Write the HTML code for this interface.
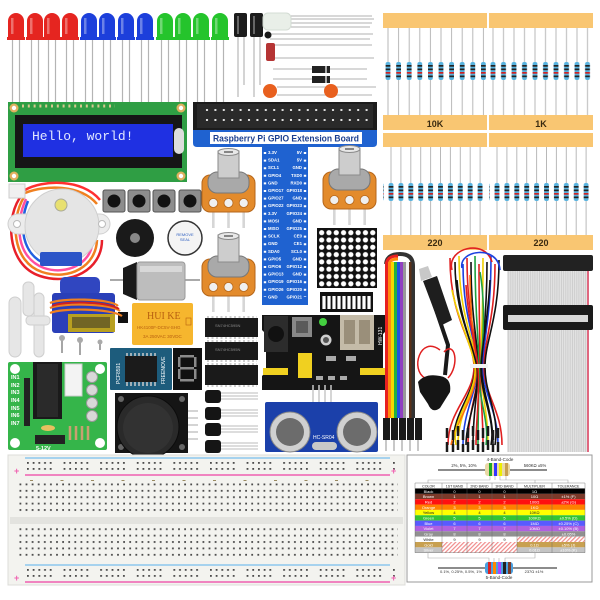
<!DOCTYPE html>
<html><head><meta charset="utf-8"><style>html,body{margin:0;padding:0;background:#fff}svg{display:block}</style></head>
<body>
<svg xmlns="http://www.w3.org/2000/svg" width="600" height="600" viewBox="0 0 600 600" font-family="'Liberation Sans',sans-serif">
<defs>
<g id="led"><path d="M4.5,27V93M11.5,27V89" stroke="#b4b4b4" stroke-width="1.2"/><path d="M0,26V8a8,8 0 0 1 16,0V26Z"/><rect x="-1" y="24" width="18" height="3"/><rect x="3" y="5" width="2.5" height="16" fill="#fff" opacity=".35"/></g>
<g id="rb"><rect x="-2.4" y="0" width="4.8" height="18" rx="2" fill="#58b2de"/><rect x="-2.4" y="3" width="4.8" height="1.7" fill="#222"/><rect x="-2.4" y="6.5" width="4.8" height="1.7" fill="#222"/><rect x="-2.4" y="10" width="4.8" height="1.7" fill="#c22"/><rect x="-2.4" y="13.5" width="4.8" height="1.7" fill="#222"/></g>
<pattern id="r1a" patternUnits="userSpaceOnUse" x="382.7" y="28" width="10.6" height="87"><line x1="5.3" y1="0" x2="5.3" y2="87" stroke="#b8b8b8"/><use href="#rb" x="5.3" y="34"/></pattern>
<pattern id="r1b" patternUnits="userSpaceOnUse" x="487.75" y="28" width="10.5" height="87"><line x1="5.25" y1="0" x2="5.25" y2="87" stroke="#b8b8b8"/><use href="#rb" x="5.25" y="34"/></pattern>
<pattern id="r2a" patternUnits="userSpaceOnUse" x="386.05" y="147" width="9.9" height="88"><line x1="4.95" y1="0" x2="4.95" y2="88" stroke="#b8b8b8"/><use href="#rb" x="4.95" y="36"/></pattern>
<pattern id="r2b" patternUnits="userSpaceOnUse" x="492.05" y="147" width="9.9" height="88"><line x1="4.95" y1="0" x2="4.95" y2="88" stroke="#b8b8b8"/><use href="#rb" x="4.95" y="36"/></pattern>
<g id="pot">
<rect x="10" y="62" width="2.6" height="18" fill="#d6d6d6"/><rect x="25.2" y="62" width="2.6" height="18" fill="#d6d6d6"/><rect x="40.4" y="62" width="2.6" height="18" fill="#d6d6d6"/>
<rect x="0" y="27" width="53" height="37" rx="8" fill="#e38b2c" stroke="#b5661a"/>
<circle cx="11.3" cy="55" r="4.5" fill="#f0f0f0" stroke="#b5661a" stroke-width=".8"/><circle cx="26.5" cy="55" r="4.5" fill="#f0f0f0" stroke="#b5661a" stroke-width=".8"/><circle cx="41.7" cy="55" r="4.5" fill="#f0f0f0" stroke="#b5661a" stroke-width=".8"/>
<rect x="6" y="24" width="41" height="21" rx="9" fill="#a9a9a9" stroke="#777"/>
<rect x="16" y="3" width="21" height="27" fill="#cdcdcd" stroke="#8a8a8a"/>
<ellipse cx="26.5" cy="4" rx="10.5" ry="3.5" fill="#e8e8e8" stroke="#8a8a8a"/><path d="M22,4H31" stroke="#666" stroke-width="1.5"/>
</g>
<pattern id="hdr" patternUnits="userSpaceOnUse" x="203" y="106" width="8.4" height="10"><rect x="3" y="3" width="2" height="2" fill="#ddd"/></pattern>
<pattern id="mtx" patternUnits="userSpaceOnUse" x="318" y="229" width="7.3" height="7.3"><circle cx="3.65" cy="3.65" r="2.6" fill="#fff"/></pattern>
<pattern id="bbh" patternUnits="userSpaceOnUse" x="18" y="482" width="6.1" height="6.4"><rect x="1.5" y="1.5" width="1.8" height="1.8" fill="#4a4a4a"/></pattern>
<pattern id="rail" patternUnits="userSpaceOnUse" x="27" y="461" width="36.6" height="6"><g fill="#4a4a4a"><rect x="0" y="1" width="1.8" height="1.8"/><rect x="5.7" y="1" width="1.8" height="1.8"/><rect x="11.4" y="1" width="1.8" height="1.8"/><rect x="17.1" y="1" width="1.8" height="1.8"/><rect x="22.8" y="1" width="1.8" height="1.8"/></g></pattern>
<pattern id="rail2" patternUnits="userSpaceOnUse" x="27" y="568" width="36.6" height="6"><g fill="#4a4a4a"><rect x="0" y="1" width="1.8" height="1.8"/><rect x="5.7" y="1" width="1.8" height="1.8"/><rect x="11.4" y="1" width="1.8" height="1.8"/><rect x="17.1" y="1" width="1.8" height="1.8"/><rect x="22.8" y="1" width="1.8" height="1.8"/></g></pattern>
<pattern id="lbl" patternUnits="userSpaceOnUse" x="30" y="0" width="30.5" height="10"><rect x="0" y="0" width="3" height="2" fill="#9a8a60"/></pattern>
<pattern id="gray" patternUnits="userSpaceOnUse" width="2.2" height="10"><rect width="2.2" height="10" fill="#e2e2e2"/><rect width="0.7" height="10" fill="#c6c6c6"/></pattern>
<pattern id="hatch" patternUnits="userSpaceOnUse" width="3" height="3" patternTransform="rotate(45)"><rect width="3" height="3" fill="#fff"/><rect width="1.2" height="3" fill="#f08a8a"/></pattern>
</defs>
<rect width="600" height="600" fill="#fff"/>

<!-- LEDs -->
<use href="#led" x="8" y="13" fill="#e52520"/><use href="#led" x="27" y="13" fill="#e52520"/><use href="#led" x="44" y="13" fill="#e52520"/><use href="#led" x="62" y="13" fill="#e52520"/>
<use href="#led" x="81" y="13" fill="#1c3fdb"/><use href="#led" x="99" y="13" fill="#1c3fdb"/><use href="#led" x="118" y="13" fill="#1c3fdb"/><use href="#led" x="137" y="13" fill="#1c3fdb"/>
<use href="#led" x="157" y="13" fill="#25c42c"/><use href="#led" x="175" y="13" fill="#25c42c"/><use href="#led" x="193" y="13" fill="#25c42c"/><use href="#led" x="212" y="13" fill="#25c42c"/>

<!-- capacitors & small parts -->
<path d="M238,37V97M244,37V85M254,37V97M260,37V85" stroke="#aaa" stroke-width="1"/>
<rect x="234" y="13" width="13" height="24" rx="2" fill="#1c1c1c"/><rect x="250" y="13" width="13" height="24" rx="2" fill="#1c1c1c"/>
<rect x="237" y="16" width="2" height="18" fill="#666"/><rect x="253" y="16" width="2" height="18" fill="#666"/>
<path d="M291,16H372M291,19H374M291,23H372M291,27H370M270,34H373M270,39H370M274,45H372M274,58H374M273,69H367M273,79H367M277,87H376M277,95H372" stroke="#b0b0b0" stroke-width="1"/>
<rect x="263" y="13" width="28" height="17" rx="5" fill="#e9efe8" stroke="#d4dcd4"/>
<circle cx="268" cy="35" r="3.5" fill="#1a1a1a"/>
<rect x="266" y="43" width="9" height="18" rx="2" fill="#b53434"/>
<rect x="312" y="66" width="18" height="7" fill="#222"/><rect x="325" y="66" width="2" height="7" fill="#aaa"/>
<rect x="312" y="76" width="18" height="7" fill="#222"/><rect x="325" y="76" width="2" height="7" fill="#aaa"/>
<circle cx="270" cy="91" r="7" fill="#e8601f"/><circle cx="331" cy="91" r="7" fill="#e8601f"/>

<!-- resistor strips -->
<rect x="383" y="13" width="104" height="15" fill="#f9c672"/><rect x="489" y="13" width="104" height="15" fill="#f9c672"/>
<rect x="383" y="28" width="104" height="87" fill="url(#r1a)"/><rect x="489" y="28" width="104" height="87" fill="url(#r1b)"/>
<rect x="383" y="115" width="104" height="15" fill="#f9c672"/><rect x="489" y="115" width="104" height="15" fill="#f9c672"/>
<text x="435" y="127" font-size="9" font-weight="bold" text-anchor="middle" fill="#3a2a10">10K</text>
<text x="541" y="127" font-size="9" font-weight="bold" text-anchor="middle" fill="#3a2a10">1K</text>
<rect x="383" y="133" width="104" height="14" fill="#f9c672"/><rect x="489" y="133" width="104" height="14" fill="#f9c672"/>
<rect x="383" y="147" width="104" height="88" fill="url(#r2a)"/><rect x="489" y="147" width="104" height="88" fill="url(#r2b)"/>
<rect x="383" y="235" width="104" height="15" fill="#f9c672"/><rect x="489" y="235" width="104" height="15" fill="#f9c672"/>
<text x="435" y="246" font-size="9" font-weight="bold" text-anchor="middle" fill="#3a2a10">220</text>
<text x="541" y="246" font-size="9" font-weight="bold" text-anchor="middle" fill="#3a2a10">220</text>

<!-- LCD -->
<rect x="8" y="102" width="179" height="80" fill="#2f9e44"/>
<g fill="#e0b060"><circle cx="14" cy="108" r="4.5"/><circle cx="181" cy="108" r="4.5"/><circle cx="14" cy="176" r="4.5"/><circle cx="181" cy="176" r="4.5"/></g>
<g fill="#fff"><circle cx="14" cy="108" r="2.2"/><circle cx="181" cy="108" r="2.2"/><circle cx="14" cy="176" r="2.2"/><circle cx="181" cy="176" r="2.2"/></g>
<path d="M22,106H115" stroke="#d8c890" stroke-width="3" stroke-dasharray="2 3.8"/>
<rect x="15" y="115" width="167" height="53" fill="#161616"/>
<rect x="23" y="124" width="150" height="33" fill="#1f30e2"/>
<text x="32" y="140" font-family="'Liberation Mono',monospace" font-size="13" fill="#e2e8ff">Hello, world!</text>
<rect x="174" y="128" width="10" height="26" rx="5" fill="#ddd"/>

<!-- GPIO board -->
<rect x="193" y="102" width="184" height="28" fill="#1c1c1c"/>
<rect x="197" y="104" width="176" height="24" fill="#2a2a2a"/>
<rect x="200" y="106" width="170" height="20" fill="url(#hdr)"/>
<path d="M193,130H377V143Q377,147 373,147H308V305H262V147H197Q193,147 193,143Z" fill="#1f62d0"/>
<rect x="210" y="132" width="152" height="12" fill="#fff"/>
<text x="286" y="141.5" font-size="8.8" font-weight="bold" text-anchor="middle" fill="#1b3f8f" textLength="146" lengthAdjust="spacingAndGlyphs">Raspberry Pi GPIO Extension Board</text>
<path d="M265,152V297M305,152V297" stroke="#fff" stroke-width="2.4" stroke-dasharray="2 5.6"/>
<g font-size="4.3" fill="#fff" font-weight="bold">
<text x="268" y="154">3.3V</text><text x="268" y="161.6">SDA1</text><text x="268" y="169.2">SCL1</text><text x="268" y="176.8">GPIO4</text><text x="268" y="184.4">GND</text><text x="268" y="192">GPIO17</text><text x="268" y="199.6">GPIO27</text><text x="268" y="207.2">GPIO22</text><text x="268" y="214.8">3.3V</text><text x="268" y="222.4">MOSI</text><text x="268" y="230">MISO</text><text x="268" y="237.6">SCLK</text><text x="268" y="245.2">GND</text><text x="268" y="252.8">SDA0</text><text x="268" y="260.4">GPIO5</text><text x="268" y="268">GPIO6</text><text x="268" y="275.6">GPIO13</text><text x="268" y="283.2">GPIO19</text><text x="268" y="290.8">GPIO26</text><text x="268" y="298.4">GND</text>
</g>
<g font-size="4.3" fill="#fff" font-weight="bold" text-anchor="end">
<text x="302" y="154">5V</text><text x="302" y="161.6">5V</text><text x="302" y="169.2">GND</text><text x="302" y="176.8">TXD0</text><text x="302" y="184.4">RXD0</text><text x="302" y="192">GPIO18</text><text x="302" y="199.6">GND</text><text x="302" y="207.2">GPIO23</text><text x="302" y="214.8">GPIO24</text><text x="302" y="222.4">GND</text><text x="302" y="230">GPIO25</text><text x="302" y="237.6">CE0</text><text x="302" y="245.2">CE1</text><text x="302" y="252.8">SCL0</text><text x="302" y="260.4">GND</text><text x="302" y="268">GPIO12</text><text x="302" y="275.6">GND</text><text x="302" y="283.2">GPIO16</text><text x="302" y="290.8">GPIO20</text><text x="302" y="298.4">GPIO21</text>
</g>

<!-- pots -->
<use href="#pot" x="202" y="148"/><use href="#pot" x="323" y="145"/><use href="#pot" x="202" y="232"/>

<!-- LED matrix & bar -->
<rect x="317" y="228" width="60" height="60" fill="#111"/><rect x="318" y="229" width="58" height="58" fill="url(#mtx)"/>
<rect x="320" y="292" width="53" height="20" fill="#111"/>
<path d="M324,296V309M329,296V309M334,296V309M339,296V309M344,296V309M349,296V309M354,296V309M359,296V309M364,296V309M369,296V309" stroke="#fff" stroke-width="3.2"/>

<!-- buttons -->
<g fill="#8d8d8d" stroke="#555"><rect x="103" y="190" width="22" height="22" rx="2"/><rect x="128" y="190" width="22" height="22" rx="2"/><rect x="153" y="190" width="22" height="22" rx="2"/><rect x="179" y="190" width="22" height="22" rx="2"/></g>
<g fill="#111"><circle cx="114" cy="201" r="6.5"/><circle cx="139" cy="201" r="6.5"/><circle cx="164" cy="201" r="6.5"/><circle cx="190" cy="201" r="6.5"/></g>

<!-- stepper -->
<g fill="none" stroke-width="2.5">
<path d="M22,195C5,215 6,265 40,276C70,286 102,270 102,240" stroke="#e8202a"/>
<path d="M24,197C10,220 12,262 42,272C70,281 96,266 97,240" stroke="#f08020"/>
<path d="M26,199C14,225 17,258 44,268C68,276 90,262 92,245" stroke="#ff4fa0"/>
<path d="M28,201C18,225 22,255 46,264" stroke="#2060e0"/>
<path d="M25,190C42,180 82,178 100,200" stroke="#ff3030"/>
<path d="M25,193C45,185 80,184 97,204" stroke="#f08020"/>
</g>
<rect x="9" y="184" width="16" height="14" fill="#f0f0f0" stroke="#ccc"/>
<rect x="8" y="214" width="102" height="20" rx="10" fill="#ececec" stroke="#cfcfcf"/>
<circle cx="62" cy="226" r="37" fill="#e5e5e5" stroke="#cfcfcf"/>
<circle cx="17" cy="224" r="3.5" fill="#fff" stroke="#bbb"/><circle cx="102" cy="224" r="3.5" fill="#fff" stroke="#bbb"/>
<rect x="40" y="252" width="42" height="14" rx="2" fill="#2c55c8"/>
<circle cx="61" cy="205" r="6" fill="#e8e070" stroke="#aa9"/>

<!-- buzzers -->
<circle cx="135" cy="238" r="19" fill="#1a1a1a"/><circle cx="135" cy="238" r="5" fill="#888"/>
<circle cx="185" cy="238" r="17" fill="#f4f4f4" stroke="#333" stroke-width="1.5"/>
<text x="185" y="236" font-size="4" text-anchor="middle" fill="#3060c0">REMOVE</text><text x="185" y="241" font-size="4" text-anchor="middle" fill="#3060c0">SEAL</text>

<!-- DC motor -->
<path d="M110,280H124M185,280H200" stroke="#aaa" stroke-width="2"/>
<path d="M123,268L137,262V300L123,294Z" fill="#1a1a1a"/>
<rect x="137" y="262" width="48" height="38" rx="3" fill="#bdbdbd" stroke="#999"/>
<rect x="140" y="266" width="42" height="6" fill="#d8d8d8"/>

<!-- servo horns & screws -->
<g fill="#e6e6e6" stroke="#cfcfcf"><rect x="9" y="297" width="12" height="60" rx="6"/><rect x="23" y="282" width="11" height="34" rx="5"/><rect x="34" y="293" width="10" height="64" rx="5"/><rect x="26" y="316" width="24" height="9" rx="4"/></g>
<g stroke="#888" stroke-width="1.5"><path d="M62,338V353M80,340V355M100,342V350"/></g>
<g fill="#aaa"><circle cx="62" cy="338" r="3"/><circle cx="80" cy="340" r="3"/><circle cx="100" cy="342" r="2.5"/></g>

<!-- servo -->
<rect x="60" y="277" width="40" height="18" rx="5" fill="#3046c0"/>
<rect x="52" y="293" width="63" height="40" rx="3" fill="#2a3fb8"/>
<rect x="118" y="312" width="10" height="11" fill="#111"/>
<path d="M50,303C60,298 110,298 118,306M50,308C60,303 110,303 120,311M50,313C60,308 110,308 122,316" fill="none" stroke-width="2.2" stroke="#f08020"/>
<path d="M52,306C62,301 108,301 119,309" fill="none" stroke="#d02020" stroke-width="2"/>
<rect x="68" y="314" width="47" height="18" fill="#b8a020"/>
<rect x="72" y="317" width="38" height="11" fill="#2a2a2a" opacity=".5"/>

<!-- relay -->
<rect x="132" y="303" width="61" height="42" rx="2" fill="#f6b62e"/>
<text x="147" y="319" font-family="'Liberation Serif',serif" font-size="10" fill="#b86010">HUI KE</text>
<text x="137" y="329" font-size="4.5" fill="#b86010">HK4100F-DC5V-SHG</text>
<text x="143" y="338" font-size="4.5" fill="#b86010">3A 250VAC 30VDC</text>
<rect x="186" y="318" width="5" height="7" fill="none" stroke="#b86010" stroke-width=".6"/>

<!-- PCF8591 -->
<rect x="110" y="348" width="62" height="42" rx="1" fill="#1d5c7c"/>
<rect x="125" y="356" width="32" height="26" fill="#1b1b1b"/>
<path d="M127,353V356M131,353V356M135,353V356M139,353V356M143,353V356M147,353V356M151,353V356M155,353V356M127,382V386M131,382V386M135,382V386M139,382V386M143,382V386M147,382V386M151,382V386M155,382V386" stroke="#ccc" stroke-width="1.5"/>
<text transform="translate(120,384) rotate(-90)" font-size="5" fill="#fff">PCF8591</text>
<text transform="translate(165,384) rotate(-90)" font-size="5" fill="#fff">FREENOVE</text>

<!-- 7 seg -->
<rect x="173" y="348" width="29" height="42" fill="#111"/>
<g fill="#8a8a8a"><rect x="180" y="355" width="14" height="2.5"/><rect x="180" y="367" width="14" height="2.5"/><rect x="180" y="379" width="14" height="2.5"/><rect x="178" y="357" width="2.5" height="10"/><rect x="194" y="357" width="2.5" height="10"/><rect x="178" y="369" width="2.5" height="10"/><rect x="194" y="369" width="2.5" height="10"/></g>

<!-- ICs -->
<g fill="#1a1a1a"><rect x="205" y="318" width="53" height="19"/><rect x="205" y="342" width="53" height="18"/><rect x="205" y="365" width="53" height="20"/></g>
<path d="M207,317H257M207,338H257M207,341H257M207,361H257M207,364H257M207,386H257" stroke="#bbb" stroke-width="1.5" stroke-dasharray="2 2.5"/>
<g font-size="4" fill="#888"><text x="215" y="327">SN74HC595N</text><text x="215" y="351">SN74HC595N</text></g>

<!-- transistors -->
<path d="M220,393H258M220,396H258M220,399H258M220,410H258M220,413H258M220,416H258M220,426H258M220,429H258M220,432H258M220,443H258M220,446H258M220,449H258" stroke="#bbb" stroke-width="1"/>
<g fill="#151515"><rect x="205" y="390" width="16" height="13" rx="3"/><rect x="205" y="407" width="16" height="13" rx="3"/><rect x="205" y="423" width="16" height="13" rx="3"/><rect x="205" y="440" width="16" height="13" rx="3"/></g>

<!-- joystick -->
<rect x="115" y="393" width="73" height="60" fill="#151515"/>
<g fill="#666"><circle cx="121" cy="399" r="3"/><circle cx="182" cy="399" r="3"/><circle cx="121" cy="447" r="3"/><circle cx="182" cy="447" r="3"/></g>
<circle cx="148" cy="427" r="31" fill="#2a2a2a" stroke="#0c0c0c"/>
<circle cx="148" cy="428" r="25" fill="#323232"/>
<path d="M188,411H198M188,418H198M188,425H198M188,432H198M188,439H198" stroke="#bbb" stroke-width="1.2"/>

<!-- ULN2003 board -->
<rect x="8" y="362" width="99" height="88" rx="2" fill="#35b54a"/>
<g fill="#fff"><circle cx="15" cy="369" r="5"/><circle cx="100" cy="369" r="5"/><circle cx="15" cy="443" r="5"/><circle cx="100" cy="443" r="5"/></g>
<rect x="24" y="378" width="6" height="48" fill="#222"/>
<rect x="33" y="362" width="29" height="57" fill="#1a1a1a"/>
<rect x="37" y="364" width="21" height="53" fill="#2a2a2a"/>
<rect x="65" y="364" width="17" height="32" fill="#f3f3f3" stroke="#ccc"/>
<g fill="#d8d8d8" stroke="#999"><circle cx="92" cy="377" r="5.5"/><circle cx="92" cy="390" r="5.5"/><circle cx="92" cy="403" r="5.5"/><circle cx="92" cy="416" r="5.5"/></g>
<ellipse cx="48" cy="428" rx="7" ry="3" fill="#e8c060"/>
<path d="M70,426V440M76,426V440M82,426V440M88,426V440" stroke="#c8a070" stroke-width="2.5"/>
<rect x="35" y="435" width="30" height="9" fill="#222"/>
<g font-size="5.5" font-weight="bold" fill="#fff"><text x="11" y="379">IN1</text><text x="11" y="387">IN2</text><text x="11" y="394">IN3</text><text x="11" y="402">IN4</text><text x="11" y="410">IN5</text><text x="11" y="417">IN6</text><text x="11" y="425">IN7</text><text x="36" y="450">5-12V</text></g>

<!-- power module -->
<path d="M262,315H387V330L383,334V372L387,376V390H262V376L266,372V334L262,330Z" fill="#151515"/>
<rect x="264" y="316" width="24" height="36" fill="#2c2c2c"/>
<circle cx="276" cy="334" r="8" fill="#111"/>
<rect x="292" y="317" width="20" height="20" fill="#888"/><rect x="296" y="321" width="12" height="12" fill="#5a5a5a"/>
<circle cx="323" cy="322" r="4" fill="#44d040"/>
<circle cx="326" cy="340" r="5.5" fill="#cfcfcf"/><circle cx="326" cy="340" r="3" fill="#555"/>
<rect x="340" y="315" width="34" height="35" fill="#c4bba8"/>
<rect x="344" y="320" width="11" height="24" fill="#9a8f7a"/><rect x="359" y="320" width="11" height="24" fill="#9a8f7a"/>
<rect x="298" y="353" width="14" height="25" fill="#f0d020"/>
<rect x="263" y="368" width="25" height="7" fill="#f0d020"/><rect x="360" y="368" width="25" height="7" fill="#f0d020"/>
<g fill="#aaa"><rect x="326" y="356" width="10" height="5"/><rect x="346" y="356" width="10" height="5"/><rect x="316" y="376" width="7" height="4"/><rect x="328" y="376" width="7" height="4"/><rect x="340" y="376" width="7" height="4"/></g>
<text transform="translate(382,345) rotate(-90)" font-size="5" fill="#fff">HW-131</text>

<!-- ultrasonic -->
<path d="M313,385V402M319,385V402M325,385V402M331,385V402" stroke="#c8c8c8" stroke-width="1.5"/>
<rect x="265" y="402" width="113" height="50" rx="2" fill="#1b40aa"/>
<circle cx="290" cy="432" r="20" fill="#d0d0d0" stroke="#888"/><circle cx="290" cy="432" r="14" fill="#6c6c6c"/>
<circle cx="357" cy="432" r="20" fill="#d0d0d0" stroke="#888"/><circle cx="357" cy="432" r="14" fill="#6c6c6c"/>
<rect x="312" y="442" width="25" height="8" rx="4" fill="#c8c8c8"/>
<text x="313" y="439" font-size="5" fill="#fff">HC-SR04</text>

<!-- rainbow ribbon -->
<path d="M413,418V266Q413,254 400,254Q387,254 386,264" fill="none" stroke="#333" stroke-width="4"/>
<path d="M386.5,264Q387,256 398,256" fill="none" stroke="#e82020" stroke-width="3"/>
<path d="M389.5,264Q390,259 398,259" fill="none" stroke="#ff8a10" stroke-width="3"/>
<g><rect x="385" y="262" width="3" height="156" fill="#e82020"/><rect x="388" y="262" width="3" height="156" fill="#ff8a10"/><rect x="391" y="262" width="3" height="156" fill="#f4d800"/><rect x="394" y="262" width="3" height="156" fill="#20b040"/><rect x="397" y="262" width="3" height="156" fill="#2050e0"/><rect x="400" y="262" width="3" height="156" fill="#9040c0"/><rect x="403" y="262" width="3" height="156" fill="#999"/><rect x="406" y="262" width="3" height="156" fill="#f4f4f4"/><rect x="409" y="262" width="2.5" height="156" fill="#5a3018"/></g>
<g fill="#1a1a1a"><rect x="383" y="418" width="7" height="22"/><rect x="391" y="418" width="7" height="22"/><rect x="399" y="418" width="7" height="22"/><rect x="407" y="418" width="7" height="22"/><rect x="415" y="418" width="7" height="22"/></g>
<path d="M386,440V451M394,440V451M402,440V451M410,440V451M418,440V451" stroke="#aaa" stroke-width="1.3"/>

<!-- DC jack & battery clip -->
<path d="M430,292L448,345L445,375" fill="none" stroke="#1a1a1a" stroke-width="4"/>
<path d="M423,281L437,276L452,320L440,326Z" fill="#1e1e1e"/>
<path d="M421,281L432,277L428,266L419,269Z" fill="#c8c8c8"/>
<path d="M440,350C420,335 410,370 425,378M444,352C455,340 460,365 448,378" fill="none" stroke="#e02020" stroke-width="1.5"/>
<path d="M418,382Q425,373 440,376Q452,378 450,392L440,408Q432,414 428,404L420,392Z" fill="#151515"/>

<!-- jumper bundle -->
<g fill="none" stroke-width="1.6">
<path d="M450,258C450,320 474,340 474,367C474,395 448,410 448,445" stroke="#e02020"/>
<path d="M455,262C455,320 475,340 475,367C475,395 453,410 453,445" stroke="#111"/>
<path d="M459,256C459,320 476,340 476,367C476,395 458,410 458,445" stroke="#f0d000"/>
<path d="M463,264C463,320 477,340 477,367C477,395 463,410 463,445" stroke="#1a40e0"/>
<path d="M467,258C467,320 478,340 478,367C478,395 468,410 468,445" stroke="#e02020"/>
<path d="M471,262C471,320 478,340 478,367C478,395 473,410 473,445" stroke="#111"/>
<path d="M475,256C475,320 479,340 479,367C479,395 478,410 478,445" stroke="#20a040"/>
<path d="M479,264C479,320 480,340 480,367C480,395 483,410 483,445" stroke="#e02020"/>
<path d="M483,258C483,320 481,340 481,367C481,395 488,410 488,445" stroke="#f0d000"/>
<path d="M487,262C487,320 482,340 482,367C482,395 493,410 493,445" stroke="#111"/>
<path d="M491,256C491,320 483,340 483,367C483,395 498,410 498,445" stroke="#1a40e0"/>
<path d="M495,264C495,320 484,340 484,367C484,395 502,410 502,445" stroke="#e02020"/>
<path d="M499,260C499,320 485,340 485,367C485,395 500,415 495,445" stroke="#111"/>
<path d="M452,270C446,248 485,238 492,262" stroke="#e02020"/>
<path d="M462,268C458,250 498,244 500,270" stroke="#1a40e0"/>
<path d="M470,275C470,300 473,340 476,367C478,395 456,420 451,445" stroke="#ff7010"/>
<path d="M480,272C485,300 484,340 480,367C476,395 490,420 486,445" stroke="#20a040"/>
<path d="M457,280C460,320 473,345 477,367C480,395 466,420 466,445" stroke="#111"/>
<path d="M490,280C488,320 482,345 481,367C480,395 496,420 491,445" stroke="#111"/>
<path d="M466,285C468,320 476,345 478,367C480,395 476,420 476,445" stroke="#e02020"/>
<path d="M452,290C458,320 472,345 475,367C477,395 450,420 456,445" stroke="#f0d000"/>
</g>
<rect x="470" y="364" width="18" height="4" fill="#f4f4f4"/>
<path d="M447,428V452M453,430V452M458,426V452M463,430V452M468,428V452M473,426V452M478,430V452M483,428V452M488,426V452M493,430V452M498,428V452" stroke="#1a1a1a" stroke-width="2.5" stroke-dasharray="10 4"/>

<!-- gray ribbon -->
<rect x="507" y="268" width="82" height="184" fill="url(#gray)"/>
<line x1="588" y1="255" x2="588" y2="452" stroke="#e04060" stroke-width="1.5"/>
<rect x="503" y="255" width="90" height="16" rx="2" fill="#222"/>
<rect x="503" y="305" width="90" height="25" rx="2" fill="#1a1a1a"/>
<rect x="508" y="315" width="80" height="7" fill="#d8d8d8"/>

<!-- breadboard -->
<rect x="8" y="455" width="397" height="130" fill="#f3f3ef" stroke="#dcdcd8"/>
<line x1="25" y1="458" x2="390" y2="458" stroke="#8cc8ee" stroke-width="1.5"/>
<line x1="25" y1="475" x2="390" y2="475" stroke="#f060b0" stroke-width="1.5"/>
<rect x="27" y="461" width="368" height="12" fill="url(#rail)"/>
<rect x="30" y="478" width="360" height="3" fill="url(#lbl)"/>
<rect x="18" y="482" width="380" height="32" fill="url(#bbh)"/>
<rect x="10" y="517" width="393" height="7" fill="#e3e3df"/>
<rect x="18" y="526" width="380" height="32" fill="url(#bbh)"/>
<rect x="30" y="557" width="360" height="3" fill="url(#lbl)"/>
<line x1="25" y1="565" x2="390" y2="565" stroke="#8cc8ee" stroke-width="1.5"/>
<line x1="25" y1="582" x2="390" y2="582" stroke="#f060b0" stroke-width="1.5"/>
<rect x="27" y="568" width="368" height="12" fill="url(#rail2)"/>
<g font-size="9" fill="#f060b0" font-weight="bold"><text x="14" y="474">+</text><text x="391" y="474">+</text><text x="14" y="581">+</text><text x="391" y="581">+</text></g>

<!-- color chart -->
<rect x="407" y="455" width="185" height="127" fill="#fff" stroke="#999"/>
<text x="500" y="461" font-size="4.5" text-anchor="middle" fill="#333">4-Band-Code</text>
<line x1="438" y1="470" x2="547" y2="470" stroke="#666" stroke-width="1.5"/>
<rect x="485" y="463" width="25" height="13" rx="3" fill="#e9d8a6"/>
<rect x="489" y="463" width="3" height="13" fill="#2a2"/><rect x="494" y="463" width="3" height="13" fill="#33f"/><rect x="499" y="463" width="3" height="13" fill="#ee0"/><rect x="505" y="463" width="3" height="13" fill="#c8a050"/>
<text x="464" y="467" font-size="4.2" text-anchor="middle" fill="#333">2%, 5%, 10%</text>
<text x="535" y="467" font-size="4.2" text-anchor="middle" fill="#333">560KΩ ±5%</text>
<path d="M490,476V480H428V483M495,476V480M500,476V480H535V483M506,476V480H568V483" fill="none" stroke="#aaa" stroke-width=".6"/>
<rect x="415" y="483" width="170" height="5.5" fill="#fff"/>
<g fill="#000"><rect x="415" y="488.5" width="170" height="5.35"/></g>
<rect x="415" y="493.85" width="170" height="5.35" fill="#7b3a2a"/>
<rect x="415" y="499.2" width="170" height="5.35" fill="#ff1010"/>
<rect x="415" y="504.55" width="170" height="5.35" fill="#ff8000"/>
<rect x="415" y="509.9" width="170" height="5.35" fill="#ffff00"/>
<rect x="415" y="515.25" width="170" height="5.35" fill="#33c433"/>
<rect x="415" y="520.6" width="170" height="5.35" fill="#5a5aff"/>
<rect x="415" y="525.95" width="170" height="5.35" fill="#b060e0"/>
<rect x="415" y="531.3" width="170" height="5.35" fill="#909090"/>
<rect x="415" y="536.65" width="170" height="5.35" fill="#fff"/>
<rect x="415" y="542" width="170" height="5.35" fill="#c8a050"/>
<rect x="415" y="547.35" width="170" height="5.35" fill="#c4c4c4"/>
<rect x="517" y="536.65" width="68" height="5.35" fill="url(#hatch)"/>
<rect x="442" y="542" width="75" height="10.7" fill="url(#hatch)"/>
<path d="M415,483H585V552.7H415ZM442,483V552.7M467,483V552.7M492,483V552.7M517,483V552.7M552,483V552.7M415,488.5H585" fill="none" stroke="#666" stroke-width=".4"/>
<g font-size="3.6" text-anchor="middle" fill="#222"><text x="428.5" y="487.3">COLOR</text><text x="454.5" y="487.3">1ST BAND</text><text x="479.5" y="487.3">2ND BAND</text><text x="504.5" y="487.3">3RD BAND</text><text x="534.5" y="487.3">MULTIPLIER</text><text x="568.5" y="487.3">TOLERANCE</text></g>
<g font-size="4" text-anchor="middle" fill="#fff">
<text x="428.5" y="492.8">Black</text><text x="454.5" y="492.8">0</text><text x="479.5" y="492.8">0</text><text x="504.5" y="492.8">0</text><text x="534.5" y="492.8">1Ω</text>
<text x="428.5" y="498.1">Brown</text><text x="454.5" y="498.1">1</text><text x="479.5" y="498.1">1</text><text x="504.5" y="498.1">1</text><text x="534.5" y="498.1">10Ω</text><text x="568.5" y="498.1">±1%  (F)</text>
<text x="428.5" y="503.5">Red</text><text x="454.5" y="503.5">2</text><text x="479.5" y="503.5">2</text><text x="504.5" y="503.5">2</text><text x="534.5" y="503.5">100Ω</text><text x="568.5" y="503.5">±2%  (G)</text>
<text x="428.5" y="508.8">Orange</text><text x="454.5" y="508.8">3</text><text x="479.5" y="508.8">3</text><text x="504.5" y="508.8">3</text><text x="534.5" y="508.8">1KΩ</text>
</g>
<g font-size="4" text-anchor="middle" fill="#222"><text x="428.5" y="514.2">Yellow</text><text x="454.5" y="514.2">4</text><text x="479.5" y="514.2">4</text><text x="504.5" y="514.2">4</text><text x="534.5" y="514.2">10KΩ</text></g>
<g font-size="4" text-anchor="middle" fill="#fff">
<text x="428.5" y="519.5">Green</text><text x="454.5" y="519.5">5</text><text x="479.5" y="519.5">5</text><text x="504.5" y="519.5">5</text><text x="534.5" y="519.5">100KΩ</text><text x="568.5" y="519.5">±0.5% (D)</text>
<text x="428.5" y="524.9">Blue</text><text x="454.5" y="524.9">6</text><text x="479.5" y="524.9">6</text><text x="504.5" y="524.9">6</text><text x="534.5" y="524.9">1MΩ</text><text x="568.5" y="524.9">±0.25% (C)</text>
<text x="428.5" y="530.2">Violet</text><text x="454.5" y="530.2">7</text><text x="479.5" y="530.2">7</text><text x="504.5" y="530.2">7</text><text x="534.5" y="530.2">10MΩ</text><text x="568.5" y="530.2">±0.10% (B)</text>
<text x="428.5" y="535.6">Gray</text><text x="454.5" y="535.6">8</text><text x="479.5" y="535.6">8</text><text x="504.5" y="535.6">8</text><text x="568.5" y="535.6">±0.05%</text>
</g>
<g font-size="4" text-anchor="middle" fill="#222"><text x="428.5" y="540.9">White</text><text x="454.5" y="540.9">9</text><text x="479.5" y="540.9">9</text><text x="504.5" y="540.9">9</text></g>
<g font-size="4" text-anchor="middle" fill="#fff"><text x="428.5" y="546.3">Gold</text><text x="534.5" y="546.3">0.1Ω</text><text x="568.5" y="546.3">±5%  (J)</text><text x="428.5" y="551.6">Silver</text><text x="534.5" y="551.6">0.01Ω</text><text x="568.5" y="551.6">±10% (K)</text></g>
<path d="M428,553V558H489V562M535,553V558H505V562M494,558V562M499,558V562" fill="none" stroke="#aaa" stroke-width=".6"/>
<line x1="438" y1="568" x2="557" y2="568" stroke="#666" stroke-width="1.5"/>
<rect x="485" y="562" width="28" height="12" rx="3" fill="#4aa0e0"/>
<rect x="488" y="562" width="3" height="12" fill="#d22"/><rect x="493" y="562" width="3" height="12" fill="#f80"/><rect x="498" y="562" width="3" height="12" fill="#a4f"/><rect x="503" y="562" width="3" height="12" fill="#222"/><rect x="508" y="562" width="3" height="12" fill="#7b3a2a"/>
<text x="461" y="573" font-size="4" text-anchor="middle" fill="#333">0.1%, 0.25%, 0.5%, 1%</text>
<text x="534" y="573" font-size="4" text-anchor="middle" fill="#333">237Ω ±1%</text>
<text x="499" y="579" font-size="4.5" text-anchor="middle" fill="#333">5-Band-Code</text>
</svg>
</body></html>
